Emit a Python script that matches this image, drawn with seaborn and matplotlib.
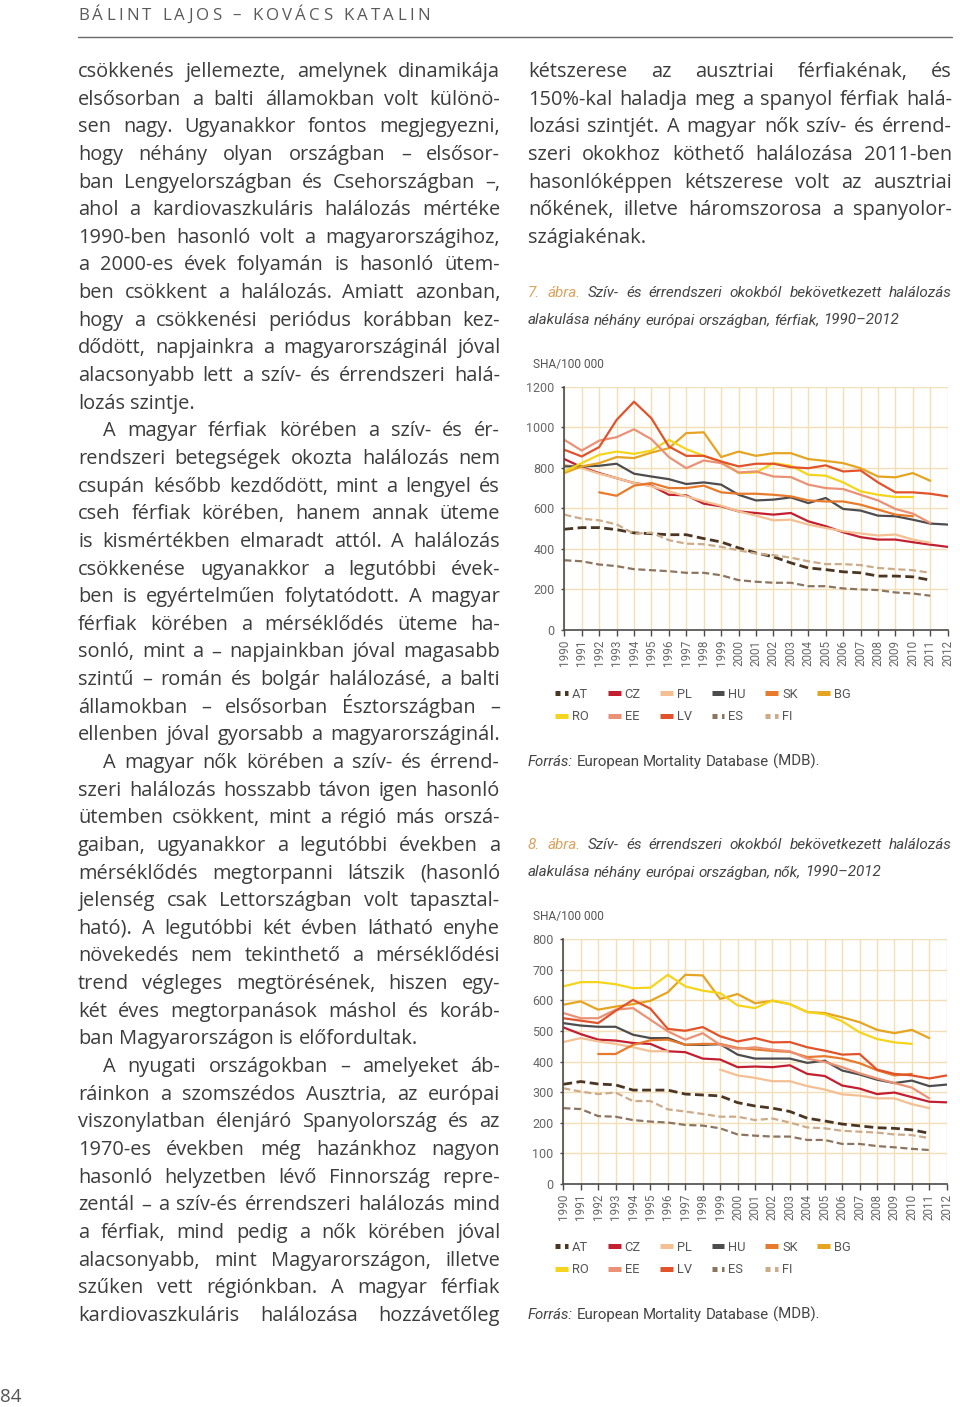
import numpy as np
import pandas as pd
import matplotlib
matplotlib.use("Agg")
import matplotlib.pyplot as plt
import matplotlib.transforms as mtrans
from matplotlib import font_manager
from matplotlib.lines import Line2D
import seaborn as sns

W, H = 960, 1407

# ---- data (SHA / 100 000) ----
YEARS = list(range(1990, 2013))
COUNTRIES = ["AT", "CZ", "PL", "HU", "SK", "BG", "RO", "EE", "LV", "ES", "FI"]
nan = np.nan

# 7. ábra - men
AT_m = [497, 505, 505, 495, 479, 475, 470, 470, 451, 434, 405, 380, 361, 331, 306, 298, 287, 282, 266, 266, 262, 246, nan]
CZ_m = [843, 803, 774, 749, 725, 712, 667, 664, 623, 610, 585, 577, 569, 577, 536, 512, 482, 458, 446, 446, 433, 421, 410]
PL_m = [815, 798, 771, 749, 725, 708, 684, 659, 635, 613, 585, 564, 541, 544, 520, 503, 487, 476, 466, 471, 446, 430, nan]
HU_m = [807, 807, 810, 820, 771, 757, 744, 720, 728, 717, 667, 639, 643, 654, 626, 651, 597, 589, 564, 561, 544, 525, 520]
SK_m = [nan, nan, 679, 662, 712, 725, 700, 700, 712, 679, 672, 672, 667, 659, 639, 634, 634, 618, 594, 569, 561, nan, nan]
BG_m = [774, 807, 823, 853, 848, 875, 897, 971, 975, 853, 880, 859, 872, 872, 843, 834, 823, 798, 757, 753, 774, 736, nan]
RO_m = [782, 823, 864, 880, 869, 885, 938, 892, 859, 831, 774, 777, 823, 810, 766, 761, 728, 684, 667, 656, 656, nan, nan]
EE_m = [938, 885, 934, 951, 990, 941, 853, 798, 836, 823, 777, 782, 757, 754, 717, 700, 695, 667, 639, 597, 574, 528, nan]
LV_m = [889, 856, 902, 1036, 1126, 1044, 905, 859, 859, 831, 807, 820, 820, 803, 798, 812, 782, 787, 728, 679, 679, 672, 659]
ES_m = [344, 339, 323, 315, 300, 295, 290, 282, 282, 270, 246, 238, 233, 233, 216, 216, 205, 200, 197, 185, 180, 169, nan]
FI_m = [569, 549, 541, 521, 475, 480, 443, 426, 423, 410, 393, 377, 369, 357, 339, 325, 325, 320, 306, 300, 295, 282, nan]

# 8. ábra - women
AT_f = [326, 335, 327, 324, 307, 307, 307, 294, 291, 288, 266, 255, 248, 237, 215, 206, 196, 190, 184, 182, 177, 166, nan]
CZ_f = [512, 490, 472, 469, 461, 458, 434, 431, 410, 407, 382, 384, 382, 388, 360, 353, 322, 312, 294, 299, 284, 269, 267]
PL_f = [464, 477, 466, 458, 447, 434, 434, nan, nan, 374, 355, 347, 336, 336, 320, 309, 293, 289, 280, 280, 261, 248, nan]
HU_f = [526, 518, 514, 514, 488, 477, 477, 455, 455, 457, 423, 410, 410, 410, 396, 403, 371, 358, 341, 330, 338, 320, 325]
SK_f = [nan, nan, 425, 425, 455, 470, 472, 455, 458, 458, 445, 440, 435, 432, 415, 418, 410, 395, 372, 355, 360, nan, nan]
BG_f = [586, 597, 570, 580, 588, 599, 627, 684, 682, 605, 621, 591, 599, 588, 562, 559, 545, 529, 504, 493, 504, 477, nan]
RO_f = [646, 660, 660, 653, 640, 642, 684, 646, 632, 624, 584, 575, 600, 588, 562, 555, 532, 496, 474, 463, 458, nan, nan]
EE_f = [559, 542, 542, 570, 575, 537, 499, 472, 493, 455, 442, 447, 439, 434, 410, 399, 382, 362, 345, 330, 315, 280, nan]
LV_f = [542, 534, 526, 566, 602, 573, 507, 501, 513, 483, 466, 477, 463, 464, 447, 436, 423, 425, 374, 360, 355, 345, 355]
ES_f = [248, 245, 222, 220, 209, 204, 201, 193, 191, 182, 162, 158, 155, 155, 144, 144, 131, 131, 124, 120, 115, 111, nan]
FI_f = [313, 302, 294, 299, 271, 271, 244, 237, 229, 220, 220, 209, 214, 201, 185, 182, 174, 171, 168, 162, 160, 150, nan]

MEN = dict(zip(COUNTRIES, [AT_m, CZ_m, PL_m, HU_m, SK_m, BG_m, RO_m, EE_m, LV_m, ES_m, FI_m]))
WOMEN = dict(zip(COUNTRIES, [AT_f, CZ_f, PL_f, HU_f, SK_f, BG_f, RO_f, EE_f, LV_f, ES_f, FI_f]))

COLORS = {"AT": "#4a3623", "CZ": "#c21f30", "PL": "#f4bf92", "HU": "#4d4d4f",
          "SK": "#e77a2c", "BG": "#e6a423", "RO": "#f4d51c", "EE": "#eb9176",
          "LV": "#e0532b", "ES": "#8b7560", "FI": "#cbab8a"}
DASHED = {"AT", "ES", "FI"}

# ---- text of the page ----
LEFT_COL = [
    "csökkenés jellemezte, amelynek dinamikája",
    "elsősorban a balti államokban volt különö-",
    "sen nagy. Ugyanakkor fontos megjegyezni,",
    "hogy néhány olyan országban – elsősor-",
    "ban Lengyelországban és Csehországban –,",
    "ahol a kardiovaszkuláris halálozás mértéke",
    "1990-ben hasonló volt a magyarországihoz,",
    "a 2000-es évek folyamán is hasonló ütem-",
    "ben csökkent a halálozás. Amiatt azonban,",
    "hogy a csökkenési periódus korábban kez-",
    "dődött, napjainkra a magyarországinál jóval",
    "alacsonyabb lett a szív- és érrendszeri halá-",
    "lozás szintje.",
    "A magyar férfiak körében a szív- és ér-",
    "rendszeri betegségek okozta halálozás nem",
    "csupán később kezdődött, mint a lengyel és",
    "cseh férfiak körében, hanem annak üteme",
    "is kismértékben elmaradt attól. A halálozás",
    "csökkenése ugyanakkor a legutóbbi évek-",
    "ben is egyértelműen folytatódott. A magyar",
    "férfiak körében a mérséklődés üteme ha-",
    "sonló, mint a – napjainkban jóval magasabb",
    "szintű – román és bolgár halálozásé, a balti",
    "államokban – elsősorban Észtországban –",
    "ellenben jóval gyorsabb a magyarországinál.",
    "A magyar nők körében a szív- és érrend-",
    "szeri halálozás hosszabb távon igen hasonló",
    "ütemben csökkent, mint a régió más orszá-",
    "gaiban, ugyanakkor a legutóbbi években a",
    "mérséklődés megtorpanni látszik (hasonló",
    "jelenség csak Lettországban volt tapasztal-",
    "ható). A legutóbbi két évben látható enyhe",
    "növekedés nem tekinthető a mérséklődési",
    "trend végleges megtörésének, hiszen egy-",
    "két éves megtorpanások máshol és koráb-",
    "ban Magyarországon is előfordultak.",
    "A nyugati országokban – amelyeket áb-",
    "ráinkon a szomszédos Ausztria, az európai",
    "viszonylatban élenjáró Spanyolország és az",
    "1970-es években még hazánkhoz nagyon",
    "hasonló helyzetben lévő Finnország repre-",
    "zentál – a szív-és érrendszeri halálozás mind",
    "a férfiak, mind pedig a nők körében jóval",
    "alacsonyabb, mint Magyarországon, illetve",
    "szűken vett régiónkban. A magyar férfiak",
    "kardiovaszkuláris halálozása hozzávetőleg",
]
LEFT_INDENT = {13, 25, 36}
LEFT_RAGGED = {12, 35}

RIGHT_COL = [
    "kétszerese az ausztriai férfiakénak, és",
    "150%-kal haladja meg a spanyol férfiak halá-",
    "lozási szintjét. A magyar nők szív- és érrend-",
    "szeri okokhoz köthető halálozása 2011-ben",
    "hasonlóképpen kétszerese volt az ausztriai",
    "nőkének, illetve háromszorosa a spanyolor-",
    "szágiakénak.",
]

sns.set_style("white")
plt.rcParams["font.family"] = ["Open Sans", "DejaVu Sans"]

NAMES = {f.name for f in font_manager.fontManager.ttflist}
NARROW = "Liberation Sans Narrow" if "Liberation Sans Narrow" in NAMES else "Roboto"

BODY = dict(family=["Open Sans", "DejaVu Sans"], size=14.4, color="#3c3c3c")
GREY = "#5a5a5a"

fig = plt.figure(figsize=(W / 100, H / 100), dpi=100)
renderer = fig.canvas.get_renderer()


def fx(px):
    return px / W


def fy(py):
    return 1 - py / H


def measure(s, kw):
    t = fig.text(0, 0, s, **kw)
    w = t.get_window_extent(renderer).width
    t.remove()
    return w


def put_line(tokens, x0, x1, base, justify=True):
    # tokens: list of (word, style); spread words from x0 to x1
    widths = [measure(w, kw) for w, kw in tokens]
    while justify and sum(widths) + 3.5 * (len(tokens) - 1) > x1 - x0:
        tokens = [(w, dict(kw, size=kw["size"] * 0.985)) for w, kw in tokens]
        widths = [measure(w, kw) for w, kw in tokens]
    if justify and len(tokens) > 1:
        gap = (x1 - x0 - sum(widths)) / (len(tokens) - 1)
    else:
        kw = tokens[0][1]
        gap = measure("a a", kw) - measure("aa", kw)
    x = x0
    for (w, kw), wd in zip(tokens, widths):
        fig.text(fx(x), fy(base), w, va="baseline", ha="left", **kw)
        x += wd + gap


def put_body(lines, x0, x1, base0, step, indent=(), ragged=()):
    for i, line in enumerate(lines):
        xs = x0 + (25 if i in indent else 0)
        toks = [(w, BODY) for w in line.split(" ")]
        put_line(toks, xs, x1, base0 + i * step, justify=i not in ragged)


def spaced(text, x0, x1, base, kw):
    chars = list(text)
    space = measure("a a", kw) - measure("aa", kw)
    widths = [space if c == " " else measure(c, kw) for c in chars]
    extra = (x1 - x0 - sum(widths)) / (len(chars) - 1)
    x = x0
    for c, wd in zip(chars, widths):
        if c != " ":
            fig.text(fx(x), fy(base), c, va="baseline", ha="left", **kw)
        x += wd + extra


def long_frame(series):
    rows = []
    for c, vals in series.items():
        seg = 0
        for yr, v in zip(YEARS, vals):
            if np.isnan(v):
                seg += 1
                continue
            rows.append((yr, v, c, f"{c}{seg}"))
    return pd.DataFrame(rows, columns=["year", "value", "country", "seg"])


def draw_chart(rect, series, ymax, ystep):
    ax = fig.add_axes(rect)
    df = long_frame(series)
    sns.lineplot(
        data=df, x="year", y="value", hue="country", hue_order=COUNTRIES,
        palette=COLORS, style="country", style_order=COUNTRIES,
        dashes={c: ((3.2, 1.6) if c in DASHED else "") for c in COUNTRIES},
        size="country", sizes={c: (2.0 if c == "AT" else 1.6) for c in COUNTRIES},
        units="seg", estimator=None, legend=False, ax=ax,
    )
    ax.set_xlim(1990, 2012)
    ax.set_ylim(0, ymax)
    ax.set_xticks(YEARS)
    ax.set_xticklabels([str(y) for y in YEARS], rotation=90,
                       family=NARROW, size=8.4, color="#666666")
    yt = np.arange(0, ymax + 1, ystep)
    ax.set_yticks(yt)
    ax.set_yticklabels([str(int(v)) for v in yt], family=NARROW, size=9.0, color="#666666")
    lift = mtrans.ScaledTranslation(0, 3 / 100, fig.dpi_scale_trans)
    for lab in ax.get_yticklabels():
        lab.set_transform(lab.get_transform() + lift)
    ax.set_xlabel("")
    ax.set_ylabel("")
    ax.grid(True, color="#f3dfb6", lw=1.0)
    ax.set_axisbelow(True)
    for s in ("top", "right"):
        ax.spines[s].set_visible(False)
    for s in ("left", "bottom"):
        ax.spines[s].set_color("#4a4a4a")
        ax.spines[s].set_linewidth(1.2)
    ax.tick_params(axis="x", length=4, width=1, color="#4a4a4a", pad=3, bottom=True)
    ax.tick_params(axis="y", length=2, width=1, color="#4a4a4a", pad=5, left=True)
    return ax


def legend_at(x, y):
    handles = {}
    for c in COUNTRIES:
        if c in DASHED:
            handles[c] = Line2D([0], [0], color=COLORS[c], lw=3.6, dashes=(1.0, 0.9))
        else:
            handles[c] = Line2D([0], [0], color=COLORS[c], lw=3.6, solid_capstyle="butt")
    order = ["AT", "RO", "CZ", "EE", "PL", "LV", "HU", "ES", "SK", "FI", "BG"]
    fig.legend([handles[c] for c in order], order, loc="upper left",
               bbox_to_anchor=(fx(x), fy(y)), ncol=6, frameon=False,
               handlelength=1.0, handletextpad=0.3, columnspacing=1.5,
               labelspacing=0.7, borderpad=0, borderaxespad=0,
               prop=dict(family=NARROW, size=9.3), labelcolor="#555555")


# ---- header, body text, page number ----
spaced("BÁLINT LAJOS – KOVÁCS KATALIN", 78, 430, 20,
       dict(family=["Open Sans", "DejaVu Sans"], size=12.2, color=GREY))
fig.add_artist(Line2D([fx(78), fx(952)], [fy(37), fy(37)], color="#6a6a6a", lw=1.0))

put_body(LEFT_COL, 78, 500, 77, 27.64, LEFT_INDENT, LEFT_RAGGED)
put_body(RIGHT_COL, 528, 952, 77, 27.64, ragged={6})

fig.text(fx(0), fy(1402), "84", va="baseline", ha="left",
         family=["Open Sans", "DejaVu Sans"], size=13.5, color="#555555")

# ---- captions ----
CAP = dict(family=NARROW, style="italic", size=11.0, color="#444444")
CAPNUM = dict(CAP, color="#dba35e")
SRC = dict(family=NARROW, size=10.8, color="#444444")
SRCI = dict(SRC, style="italic")

for num, who, ybase in (("7.", "férfiak", 297), ("8.", "nők", 849)):
    toks = [(num, CAPNUM), ("ábra.", CAPNUM)]
    toks += [(w, CAP) for w in "Szív- és érrendszeri okokból bekövetkezett halálozás".split(" ")]
    put_line(toks, 528, 952, ybase)
    put_line([(w, CAP) for w in f"alakulása néhány európai országban, {who}, 1990–2012".split(" ")],
             528, 952, ybase + 27.5, justify=False)
    fig.text(fx(533), fy(ybase + 71), "SHA/100 000", va="baseline", ha="left",
             family=NARROW, size=8.6, color="#555555")

for ybase in (766, 1319):
    put_line([("Forrás:", SRCI)] + [(w, SRC) for w in "European Mortality Database (MDB).".split(" ")],
             528, 952, ybase, justify=False)

# ---- charts ----
draw_chart([fx(564.3), fy(630), (947.7 - 564.3) / W, (630 - 386.7) / H], MEN, 1200, 200)
draw_chart([fx(563.3), fy(1184), (946.7 - 563.3) / W, (1184 - 939.3) / H], WOMEN, 800, 100)

legend_at(555, 688)
legend_at(555, 1241)

fig.savefig("out.png", dpi=100, facecolor="white")
